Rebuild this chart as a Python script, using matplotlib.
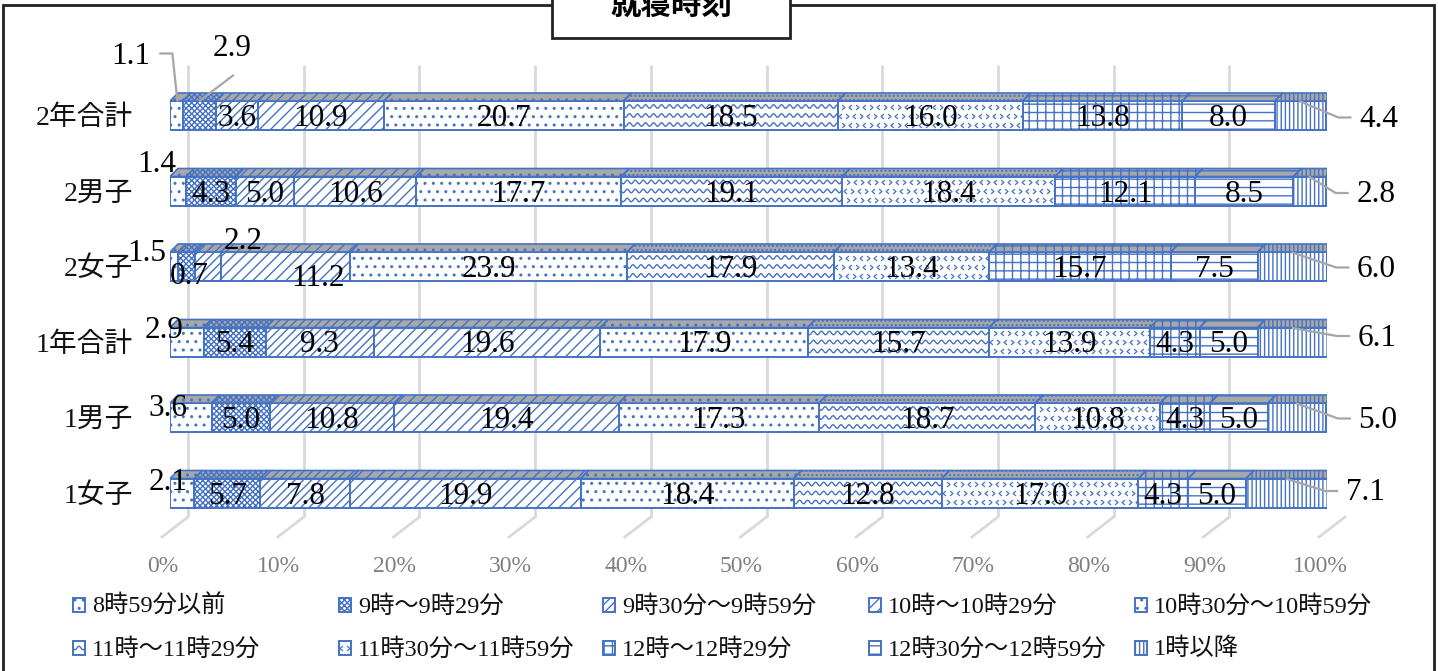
import numpy as np
import matplotlib
matplotlib.use("Agg")
import matplotlib.pyplot as plt
from matplotlib.patches import Rectangle, Polygon
from matplotlib.path import Path

plt.rcParams['font.family'] = ['Liberation Serif', 'Noto Sans CJK JP']
plt.rcParams['hatch.linewidth'] = 1.0

# ---------------- data ----------------
categories = ["2年合計", "2男子", "2女子", "1年合計", "1男子", "1女子"]
bands = ["8時59分以前", "9時～9時29分", "9時30分～9時59分", "10時～10時29分",
         "10時30分～10時59分", "11時～11時29分", "11時30分～11時59分",
         "12時～12時29分", "12時30分～12時59分", "1時以降"]

y2_total = [1.1, 2.9, 3.6, 10.9, 20.7, 18.5, 16.0, 13.8, 8.0, 4.4]
y2_boys = [1.4, 4.3, 5.0, 10.6, 17.7, 19.1, 18.4, 12.1, 8.5, 2.8]
y2_girls = [0.7, 1.5, 2.2, 11.2, 23.9, 17.9, 13.4, 15.7, 7.5, 6.0]
y1_total = [2.9, 5.4, 9.3, 19.6, 17.9, 15.7, 13.9, 4.3, 5.0, 6.1]
y1_boys = [3.6, 5.0, 10.8, 19.4, 17.3, 18.7, 10.8, 4.3, 5.0, 5.0]
y1_girls = [2.1, 5.7, 7.8, 19.9, 18.4, 12.8, 17.0, 4.3, 5.0, 7.1]

x_ticks = [0, 10, 20, 30, 40, 50, 60, 70, 80, 90, 100]
x_tick_labels = [f"{t}%" for t in x_ticks]

values = np.array([y2_total, y2_boys, y2_girls, y1_total, y1_boys, y1_girls])

# ---------------- styling ----------------
BLUE = "#4472C4"
TOP_GRAY = "#a8a8a8"
SIDE_FILL = "#8796b4"
GRID = "#d9d9d9"
# hatch per band; 'wave' / 'divot' are drawn by hand
hatches = ['..', 'xxxxxx', '////', '///', '..', 'wave', 'divot', '++', '--', '||||']

FIG_W, FIG_H = 1438, 671
X0_PX, X1_PX = 170, 1327          # front face 0% .. 100%
Y_TOP_PX, Y_BOT_PX = 65, 537      # plot region
ROW0_PX, ROW_STEP_PX = 115.5, 75.5
px_x = 100.0 / (X1_PX - X0_PX)    # data units per pixel along x
px_y = 1.0 / ROW_STEP_PX          # data units per pixel along y
BAR_H = 29 * px_y
DEPTH_X, DEPTH_Y = 8 * px_x, 8 * px_y
TEXT_DROP = 3 * px_y              # optical centring of numerals

fig = plt.figure(figsize=(FIG_W / 100, FIG_H / 100), dpi=100)

# background layer: frame, title box, legend (pixel coordinates)
bg = fig.add_axes([0, 0, 1, 1], zorder=0)
bg.set_xlim(0, FIG_W)
bg.set_ylim(FIG_H, 0)
bg.axis('off')

ax = fig.add_axes([X0_PX / FIG_W, 1 - Y_BOT_PX / FIG_H,
                   (X1_PX - X0_PX) / FIG_W, (Y_BOT_PX - Y_TOP_PX) / FIG_H], zorder=2)
ax.set_xlim(0, 100)
ax.set_ylim((Y_BOT_PX - ROW0_PX) * px_y, (Y_TOP_PX - ROW0_PX) * px_y)
ax.axis('off')

rows = np.arange(len(categories))


def yrow(p):
    return (p - ROW0_PX) * px_y


# back-wall gridlines and floor
wall_top, wall_bot, floor_front = yrow(65), yrow(517), yrow(537)
for t, lab in zip(x_ticks, x_tick_labels):
    xb = t + 18 * px_x
    xf = t - 8 * px_x
    ax.plot([xb, xb], [wall_top, wall_bot], color=GRID, lw=2, zorder=0, solid_capstyle='butt')
    ax.plot([xb, xf], [wall_bot, floor_front], color=GRID, lw=2, zorder=0, clip_on=False)
    ax.text(t - 7 * px_x, yrow(567), lab, ha='center', va='center',
            fontsize=17, color="#7f7f7f", clip_on=False)

CHEV_R = Path([(-0.6, 1), (0.6, 0), (-0.6, -1)], [Path.MOVETO, Path.LINETO, Path.LINETO])
CHEV_L = Path([(0.6, 1), (-0.6, 0), (0.6, -1)], [Path.MOVETO, Path.LINETO, Path.LINETO])


def draw_waves(axis, x0, x1, yc, half_h, sx, sy, clip, z):
    period = 8 * sx
    amp = 1.8 * sy
    step = 9 * sy
    npts = max(int((x1 - x0) / period * 12), 4)
    xs = np.linspace(x0, x1, npts)
    n = int(half_h / step) + 1
    for k in range(-n, n + 1):
        ys = yc + k * step + amp * np.sin(2 * np.pi * (xs - x0) / period)
        ln, = axis.plot(xs, ys, color=BLUE, lw=1.0, zorder=z)
        ln.set_clip_path(clip)


def draw_divots(axis, x0, x1, yc, half_h, sx, sy, clip, z, ms=3.5):
    dx = 7 * sx
    step = 9 * sy
    n = int(half_h / step) + 1
    for k in range(-n, n + 1):
        xs = np.arange(x0 + (k % 2) * dx / 2 + dx / 3, x1, dx)
        for j, xv in enumerate(xs):
            mk = CHEV_L if (j + k) % 2 == 0 else CHEV_R
            ln, = axis.plot([xv], [yc + k * step], ls='none', marker=mk, ms=ms,
                            mfc='none', mec=BLUE, mew=0.9, zorder=z)
            ln.set_clip_path(clip)


# ---------------- bars ----------------
lefts = np.hstack([np.zeros((len(categories), 1)), np.cumsum(values, axis=1)[:, :-1]])
ends = lefts + values

for b, band in enumerate(bands):
    h = hatches[b]
    pat = h if h not in ('wave', 'divot') else None
    cont = ax.barh(rows, values[:, b], left=lefts[:, b], height=BAR_H,
                   color='white', edgecolor=BLUE, linewidth=1.4, hatch=pat, zorder=3)
    for r, rect in enumerate(cont.patches):
        x0, x1 = lefts[r, b], ends[r, b]
        ytop = rows[r] - BAR_H / 2
        if h == 'wave':
            draw_waves(ax, x0, x1, rows[r], BAR_H / 2, px_x, px_y, rect, 3.5)
        elif h == 'divot':
            draw_divots(ax, x0, x1, rows[r], BAR_H / 2, px_x, px_y, rect, 3.5)
        # top face of the 3-D bar
        top_hatch = pat if pat else '....'
        ax.add_patch(Polygon([(x0, ytop), (x1, ytop), (x1 + DEPTH_X, ytop - DEPTH_Y),
                              (x0 + DEPTH_X, ytop - DEPTH_Y)], closed=True,
                             facecolor=TOP_GRAY, edgecolor=BLUE, lw=1.2,
                             hatch=top_hatch, zorder=3))
        if b == len(bands) - 1:
            ybot = rows[r] + BAR_H / 2
            ax.add_patch(Polygon([(x1, ytop), (x1 + DEPTH_X, ytop - DEPTH_Y),
                                  (x1 + DEPTH_X, ybot - DEPTH_Y), (x1, ybot)], closed=True,
                                 facecolor=SIDE_FILL, edgecolor=BLUE, lw=1.2,
                                 hatch='||||', zorder=3))

# category labels
for r, name in enumerate(categories):
    ax.text(-37 * px_x, rows[r] + 3 * px_y, name, ha='right', va='center',
            fontsize=20, color="#111111", clip_on=False)

# ---------------- value labels ----------------
# pixel shifts of labels that sit away from their segment centre
label_shift = {
    (0, 0): (-46, -62), (0, 1): (33, -70), (0, 9): (78, 1),
    (1, 0): (-21, -29), (1, 9): (66, 1),
    (2, 0): (15, 7), (2, 1): (-40, -16), (2, 2): (35, -28), (2, 3): (32, 9), (2, 9): (84, 0),
    (3, 0): (-23, -14), (3, 9): (84, -7),
    (4, 0): (-23, -12), (4, 9): (81, 0),
    (5, 0): (-14, -13), (5, 9): (78, -3),
}
# leader lines (pixel offsets from segment centre)
leaders = {
    (0, 0): [(-16, -62), (-4, -62), (1, -15)],
    (0, 1): [(33.5, -40), (0.5, -15)],
}
for r in range(len(categories)):
    sdx, sdy = label_shift[(r, 9)]
    leaders[(r, 9)] = [(0, -14), (sdx - 40, sdy + 1), (sdx - 28, sdy + 1)]

for r in range(len(categories)):
    for b in range(len(bands)):
        v = values[r, b]
        cx = lefts[r, b] + v / 2
        cy = rows[r]
        sdx, sdy = label_shift.get((r, b), (0, 0))
        ax.text(cx + sdx * px_x, cy + sdy * px_y + TEXT_DROP, f"{v:.1f}",
                ha='center', va='center', fontsize=22.5, color='black',
                zorder=6, clip_on=False)
        if (r, b) in leaders:
            pts = leaders[(r, b)]
            ax.plot([cx + p[0] * px_x for p in pts], [cy + p[1] * px_y for p in pts],
                    color="#a6a6a6", lw=1.6, zorder=5, clip_on=False)

# ---------------- frame & title ----------------
bg.add_patch(Rectangle((3, 5), 1431, 700, facecolor='white', edgecolor='#222222', lw=2))
bg.add_patch(Rectangle((552, -20), 238, 58, facecolor='white', edgecolor='#222222', lw=2, zorder=5))
bg.text(671, 6, "就寝時刻", ha='center', va='center', fontsize=22, fontweight='bold',
        family=['Noto Sans CJK JP'], zorder=6)

# ---------------- legend ----------------
leg_cols = [73, 339, 603, 869, 1135]
leg_rows = [605, 648]
for i, band in enumerate(bands):
    lx = leg_cols[i % 5]
    ly = leg_rows[i // 5]
    h = hatches[i]
    pat = h if h not in ('wave', 'divot') else None
    sq = Rectangle((lx, ly - 7), 12, 14, facecolor='white', edgecolor=BLUE, lw=1.4,
                   hatch=pat, zorder=3)
    bg.add_patch(sq)
    if h == 'wave':
        draw_waves(bg, lx, lx + 12, ly, 7, 1, 1, sq, 3.5)
    elif h == 'divot':
        draw_divots(bg, lx, lx + 12, ly, 7, 1, 1, sq, 3.5)
    bg.text(lx + 19, ly + 1, band, ha='left', va='center', fontsize=17.5, color='#111111')

fig.savefig("out.png", dpi=100)
